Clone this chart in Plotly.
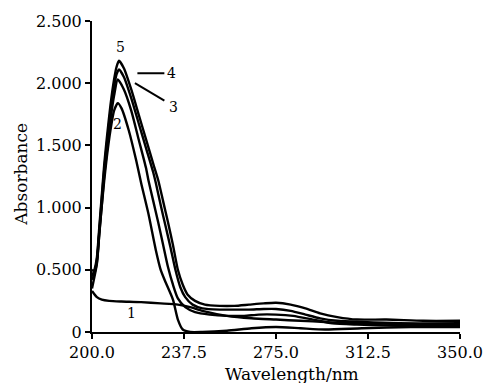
import plotly.graph_objects as go

# Curve data (wavelength nm, absorbance)
x1 = [200, 202, 204, 207, 212, 220, 228, 235, 240, 245, 255, 265, 275, 285, 295, 305, 315, 330, 350]
y1 = [0.33, 0.28, 0.26, 0.25, 0.245, 0.24, 0.23, 0.22, 0.2, 0.17, 0.13, 0.11, 0.1, 0.09, 0.08, 0.07, 0.07, 0.06, 0.06]

x2 = [200, 202, 203, 204, 205, 206, 207.5, 209, 210.5, 212, 215, 218, 220, 223, 226, 228, 230, 233, 235, 237, 240, 245, 255, 265, 275, 285, 295, 310, 330, 350]
y2 = [0.35, 0.55, 0.8, 1.02, 1.22, 1.4, 1.62, 1.78, 1.84, 1.8, 1.62, 1.38, 1.2, 0.95, 0.66, 0.5, 0.4, 0.26, 0.1, 0.02, 0.0, 0.0, 0.01, 0.03, 0.04, 0.03, 0.02, 0.03, 0.04, 0.04]

x3 = [200, 201, 202, 203, 204, 205, 206, 207.5, 209, 210.5, 213, 216, 219, 222, 223, 225, 227, 229, 231, 233, 235, 238, 242, 248, 255, 262, 268, 275, 282, 290, 298, 308, 325, 350]
y3 = [0.42, 0.47, 0.56, 0.79, 1.02, 1.26, 1.44, 1.7, 1.9, 2.03, 1.95, 1.78, 1.55, 1.32, 1.22, 1.05, 0.88, 0.7, 0.52, 0.38, 0.27, 0.2, 0.16, 0.14, 0.13, 0.13, 0.14, 0.14, 0.13, 0.1, 0.07, 0.06, 0.05, 0.05]

x4 = [200, 201, 202, 203, 204, 205, 206, 207.5, 209, 210, 211, 213, 216, 219, 222, 225, 226, 228, 230, 232, 234, 236, 238, 241, 245, 252, 258, 264, 270, 275, 281, 287, 293, 300, 310, 325, 350]
y4 = [0.5, 0.49, 0.58, 0.82, 1.07, 1.31, 1.5, 1.77, 1.97, 2.07, 2.11, 2.05, 1.88, 1.68, 1.48, 1.28, 1.2, 1.02, 0.85, 0.68, 0.5, 0.36, 0.28, 0.22, 0.19, 0.18, 0.18, 0.18, 0.185, 0.185, 0.17, 0.14, 0.11, 0.09, 0.08, 0.07, 0.07]

x5 = [200, 201, 202, 203, 204, 205, 206, 207.5, 209, 210, 211, 213, 216, 219, 222, 225, 227, 229, 231, 233, 235, 237, 239, 242, 246, 252, 258, 264, 270, 275, 281, 287, 293, 300, 308, 320, 335, 350]
y5 = [0.45, 0.5, 0.6, 0.85, 1.1, 1.35, 1.55, 1.82, 2.03, 2.13, 2.18, 2.12, 1.95, 1.75, 1.55, 1.35, 1.22, 1.05, 0.88, 0.7, 0.5, 0.38, 0.3, 0.25, 0.22, 0.21, 0.21, 0.22, 0.23, 0.235, 0.22, 0.19, 0.15, 0.12, 0.1, 0.1, 0.09, 0.09]

x_ticks = [200, 237.5, 275, 312.5, 350]
x_tick_text = ["200.0", "237.5", "275.0", "312.5", "350.0"]
y_ticks = [0, 0.5, 1.0, 1.5, 2.0, 2.5]
y_tick_text = ["0", "0.500", "1.000", "1.500", "2.000", "2.500"]

FONT = "DejaVu Serif"
L, R, T, B = 92, 24, 20, 51
PW = 495 - L - R
PH = 383 - T - B

fig = go.Figure()
for xs, ys in [(x1, y1), (x2, y2), (x3, y3), (x4, y4), (x5, y5)]:
    fig.add_trace(go.Scatter(x=xs, y=ys, mode="lines",
                             line=dict(color="black", width=2.4, shape="spline", smoothing=0.6),
                             showlegend=False, hoverinfo="skip"))

# curve labels
labels = [("5", 211.8, 2.29), ("4", 232.5, 2.08), ("3", 233.3, 1.81), ("2", 210.2, 1.67), ("1", 216.1, 0.15)]
for t, lx, ly in labels:
    fig.add_annotation(x=lx, y=ly, text=t, showarrow=False,
                       font=dict(family=FONT, size=14, color="black"))

fig.add_shape(type="line", x0=218.5, y0=2.08, x1=229.5, y1=2.08, line=dict(color="black", width=2))
fig.add_shape(type="line", x0=217.5, y0=2.0, x1=229.5, y1=1.86, line=dict(color="black", width=2))

# axis titles
fig.add_annotation(xref="paper", yref="paper", x=(298 - L) / PW, y=-(374 - (383 - B)) / PH,
                   text="Wavelength/nm", showarrow=False, xanchor="center", yanchor="middle",
                   font=dict(family=FONT, size=17, color="black"))
fig.add_annotation(xref="paper", yref="paper", x=-(L - 18) / PW, y=((383 - B) - 174) / PH,
                   text="Absorbance", textangle=-90, showarrow=False,
                   xanchor="center", yanchor="middle",
                   font=dict(family=FONT, size=17, color="black"))

fig.update_layout(
    width=495, height=383,
    margin=dict(l=L, r=R, t=T, b=B),
    paper_bgcolor="white", plot_bgcolor="white",
    font=dict(family=FONT, color="black", size=16),
    xaxis=dict(range=[200, 350], tickvals=x_ticks, ticktext=x_tick_text,
               showgrid=False, zeroline=False, showline=True, linecolor="black", linewidth=2,
               ticks="outside", ticklen=5, tickwidth=2, tickcolor="black",
               tickfont=dict(family=FONT, size=16)),
    yaxis=dict(range=[0, 2.5], tickvals=y_ticks, ticktext=y_tick_text,
               showgrid=False, zeroline=False, showline=True, linecolor="black", linewidth=2,
               ticks="outside", ticklen=5, tickwidth=2, tickcolor="black",
               tickfont=dict(family=FONT, size=16)),
)

fig.write_html("out.html")
